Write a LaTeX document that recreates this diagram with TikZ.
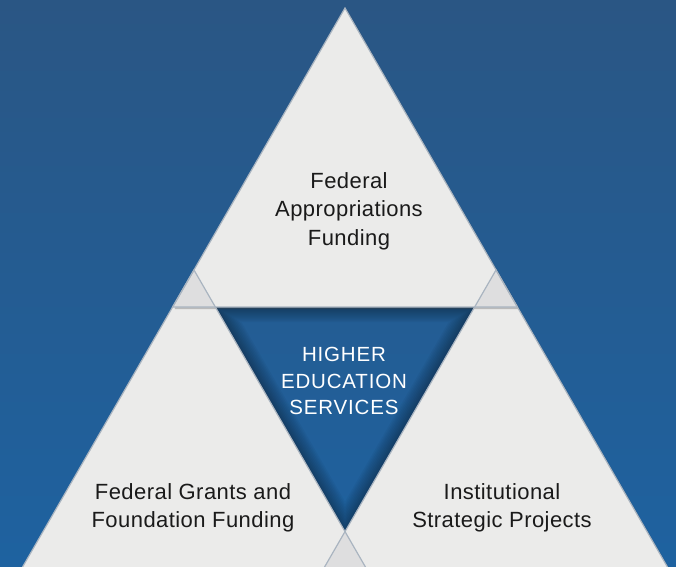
\documentclass[tikz,border=0pt]{standalone}
\usepackage{fontspec}
\setmainfont{Liberation Sans}
\usetikzlibrary{shadows}
\definecolor{bgtop}{HTML}{2A5684}
\definecolor{bgbot}{HTML}{1E62A0}
\definecolor{trifill}{HTML}{EBEBEA}
\definecolor{ovlfill}{HTML}{DEDEDF}
\definecolor{edgecol}{HTML}{A9B4C0}
\definecolor{txtcol}{HTML}{1A1A1A}
\tikzset{
  tri/.style={fill=trifill, drop shadow={shadow xshift=2pt, shadow yshift=-2pt, opacity=0.3, fill=black!70}},
  ovl/.style={fill=ovlfill},
  triedge/.style={draw=edgecol, line width=1.2pt, line join=miter},
  lbl/.style={font=\fontsize{22}{28.5}\selectfont\addfontfeatures{LetterSpace=2}, text=txtcol, align=center},
  ctr/.style={font=\fontsize{20.5}{26.5}\selectfont\addfontfeatures{LetterSpace=4}, text=white, align=center}
}
\begin{document}
\begin{tikzpicture}[x=1pt,y=-1pt]
\useasboundingbox (0,0) rectangle (676,566);
\fill[top color=bgtop,bottom color=bgbot] (0,0) rectangle (676,566);
% corner points
\coordinate (Ta) at (345,8);
\coordinate (Tl) at (172.6,307);
\coordinate (Tr) at (517.4,307);
\coordinate (La) at (194,270);
\coordinate (Ll) at (21.4,569);
\coordinate (Lr) at (366.6,569);
\coordinate (Ra) at (496,270);
\coordinate (Rl) at (323.4,569);
\coordinate (Rr) at (668.6,569);
\coordinate (Ci) at (215.4,307);
\coordinate (Cj) at (474.6,307);
\coordinate (Cb) at (345,531.6);
% soft inner shadow of centre triangle
\begin{scope}
  \clip (Ci) -- (Cj) -- (Cb) -- cycle;
  \foreach \w in {30,27,...,3}
    \draw[black, opacity=0.035, line width=\w pt, line join=round] (Ci) -- (Cj) -- (Cb) -- cycle;
\end{scope}
% triangles
\path[tri] (La) -- (Ll) -- (Lr) -- cycle;
\path[tri] (Ra) -- (Rl) -- (Rr) -- cycle;
\path[tri] (Ta) -- (Tl) -- (Tr) -- cycle;
% overlaps
\path[ovl] (La) -- (Tl) -- (Ci) -- cycle;
\path[ovl] (Ra) -- (Cj) -- (Tr) -- cycle;
\path[ovl] (Cb) -- (Rl) -- (Lr) -- cycle;
% outlines
\path[triedge] (La) -- (Ll) -- (Lr) -- cycle;
\path[triedge] (Ra) -- (Rl) -- (Rr) -- cycle;
\path[triedge] (Ta) -- (Tl) -- (Tr) -- cycle;
% labels
\node[lbl] (tlab) at (349,211) {Federal\\Appropriations\\Funding};
\node[lbl] (llab) at (193,508) {Federal Grants and\\Foundation Funding};
\node[lbl] (rlab) at (502,508) {Institutional\\Strategic Projects};
\node[ctr] (clab) at (344,381) {HIGHER\\EDUCATION\\SERVICES};
\end{tikzpicture}
\end{document}
